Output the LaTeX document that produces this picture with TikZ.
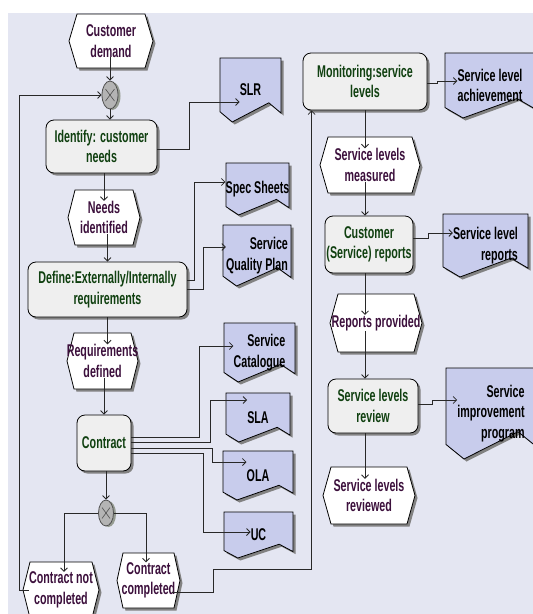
\documentclass[tikz,border=0pt]{standalone}
\usepackage{fontspec}
\newfontfamily\dfont{Liberation Sans}[FakeStretch=0.63]
\usetikzlibrary{arrows.meta,shapes.geometric,shadows}
\definecolor{bgc}{RGB}{228,230,242}
\definecolor{docfill}{RGB}{200,204,236}
\definecolor{boxfill}{RGB}{239,239,239}
\definecolor{shadowc}{RGB}{130,130,130}
\definecolor{gateshadow}{RGB}{150,156,146}
\definecolor{gatefill}{RGB}{180,180,180}
\definecolor{gatedraw}{RGB}{80,80,80}
\definecolor{boxtext}{RGB}{16,64,16}
\definecolor{hextext}{RGB}{60,16,60}
\definecolor{linec}{RGB}{40,40,40}
\pgfdeclarelayer{back}
\pgfdeclarelayer{shapes}
\pgfsetlayers{back,shapes,main}

% hexagon outline around a node: name, width, height, indent, style
\newcommand\hexdraw[5]{%
  \path[#5] ([shift={(-#2/2,0)}]#1.center)
    -- ([shift={(-#2/2+#4,-#3/2)}]#1.center)
    -- ([shift={(#2/2-#4,-#3/2)}]#1.center)
    -- ([shift={(#2/2,0)}]#1.center)
    -- ([shift={(#2/2-#4,#3/2)}]#1.center)
    -- ([shift={(-#2/2+#4,#3/2)}]#1.center) -- cycle;}
\newcommand\hexshape[4]{%
  \begin{pgfonlayer}{shapes}
    \hexdraw{#1}{#2}{#3}{#4}{shadowpath}
    \hexdraw{#1}{#2}{#3}{#4}{hexpath}
  \end{pgfonlayer}}

% document outline (wavy bottom) around a node: name, width, height, style
\newcommand\docdraw[4]{%
  \path[#4] ([shift={(-#2/2,-#3/2)}]#1.center)
    -- ++(#2,0) -- ++(0,0.86*#3) -- ++(-0.2*#2,-0.16*#3)
    -- ++(-0.6*#2,0.30*#3) -- ++(-0.2*#2,-0.16*#3) -- cycle;}
\newcommand\docshape[3]{%
  \begin{pgfonlayer}{shapes}
    \docdraw{#1}{#2}{#3}{shadowpath}
    \docdraw{#1}{#2}{#3}{docpath}
  \end{pgfonlayer}}

\tikzset{
  every node/.style={font=\dfont\bfseries\fontsize{17}{20.5}\selectfont,
    align=center, inner sep=0pt},
  shadowpath/.style={fill=shadowc, transform canvas={xshift=2.5pt,yshift=-2.5pt}},
  hexpath/.style={fill=white, draw=black, line width=0.8pt},
  docpath/.style={fill=docfill, draw=black, line width=0.8pt},
  box/.style={rectangle, rounded corners=8pt, draw=black, line width=0.8pt,
    fill=boxfill, text=boxtext,
    drop shadow={shadow xshift=2.5pt, shadow yshift=-2.5pt, opacity=1, fill=shadowc}},
  hexnode/.style={text=hextext},
  docnode/.style={text=black},
  gate/.style={ellipse, draw=gatedraw, fill=gatefill, line width=0.8pt,
    minimum width=16pt, minimum height=28pt,
    drop shadow={shadow xshift=2.5pt, shadow yshift=-1pt, opacity=1, fill=gateshadow}},
  gatex/.style={draw=gatedraw, line width=0.6pt},
  conn/.style={draw=linec, line width=0.8pt, -{Straight Barb[length=3.5pt,width=7pt]}},
}

\begin{document}
\begin{tikzpicture}[x=1pt,y=-1pt]
\useasboundingbox (0,0) rectangle (533,614);
\clip (0,0) rectangle (533,614);
\begin{pgfonlayer}{back}
  \fill[white] (0,0) rectangle (533,614);
  \fill[bgc] (8,13) rectangle (533,614);
\end{pgfonlayer}

% ---- left column: requirements and contract
\node[hexnode] (cd) at (111,41) {Customer\\demand};
\hexshape{cd}{84}{54}{8}
\node[gate] (x1) at (110,95) {};
\draw[gatex] ([shift={(-4.5,-6)}]x1.center) -- ([shift={(4.5,6)}]x1.center);
\draw[gatex] ([shift={(-4.5,6)}]x1.center) -- ([shift={(4.5,-6)}]x1.center);
\node[box, minimum width=111pt, minimum height=53pt] (id) at (101.5,146.5) {Identify: customer\\needs};
\node[hexnode] (ni) at (104,217.5) {Needs\\identified};
\hexshape{ni}{72}{55}{7}
\node[box, minimum width=159pt, minimum height=55pt] (def) at (107.5,289.5) {Define:Externally/Internally\\requirements};
\node[hexnode] (rd) at (102.5,361) {Requirements\\defined};
\hexshape{rd}{71}{56}{7}
\node[box, minimum width=54pt, minimum height=56pt] (con) at (104,443) {Contract};
\node[gate, minimum width=15pt, minimum height=26pt] (x2) at (106,513) {};
\draw[gatex] ([shift={(-4,-5.5)}]x2.center) -- ([shift={(4,5.5)}]x2.center);
\draw[gatex] ([shift={(-4,5.5)}]x2.center) -- ([shift={(4,-5.5)}]x2.center);
\node[hexnode] (cnc) at (61,590) {Contract not\\completed};
\hexshape{cnc}{76}{56}{7}
\node[hexnode] (cc) at (148.5,580.5) {Contract\\completed};
\hexshape{cc}{63}{55}{6}

% ---- documents produced
\node[docnode] (slr) at (250.5,90) {SLR};
\docshape{slr}{61}{64}
\node[docnode] (ss) at (257.5,189) {Spec Sheets};
\docshape{ss}{63}{52}
\node[docnode, align=right] (sqp) at (257,255.5) {Service\\Quality Plan};
\docshape{sqp}{68}{61}
\node[docnode, align=right] (sc) at (259.5,352.5) {Service\\Catalogue};
\docshape{sc}{71}{59}
\node[docnode] (sla) at (258,417.5) {SLA};
\docshape{sla}{64}{49}
\node[docnode] (ola) at (258,475.5) {OLA};
\docshape{ola}{70}{49}
\node[docnode] (uc) at (258.5,535) {UC};
\docshape{uc}{69}{46}

% ---- right column: monitoring and review
\node[box, minimum width=124pt, minimum height=57pt] (mon) at (365,81.5) {Monitoring:service\\levels};
\node[docnode] (slach) at (490,85.5) {Service level\\achievement};
\docshape{slach}{90}{65}
\node[hexnode] (slm) at (370,165) {Service levels\\measured};
\hexshape{slm}{100}{56}{8}
\node[box, minimum width=88pt, minimum height=57pt] (csr) at (369,244.5) {Customer\\(Service) reports};
\node[docnode, align=right] (slrep) at (485.5,245.5) {Service level\\reports};
\docshape{slrep}{85}{63}
\node[hexnode] (rp) at (376,323) {Reports provided};
\hexshape{rp}{92}{58}{8}
\node[box, minimum width=90pt, minimum height=54pt] (rev) at (373,406) {Service levels\\review};
\node[docnode, align=right] (sip) at (491,413.5) {Service\\improvement\\program};
\docshape{sip}{90}{91}
\node[hexnode] (rvd) at (369,495.5) {Service levels\\reviewed};
\hexshape{rvd}{92}{57}{8}

% ---- connectors, left column
\draw[conn] (x1.north |- cd.south) -- (x1.north);
\draw[conn] (x1.south) -- (x1.south |- id.north);
\draw[conn] (cnc.west) -- ++(-10,0) |- (x1.west);
\draw[conn] ([yshift=-3pt]id.east) -- ++(32,0) |- ([yshift=-12pt]slr.west);
\draw[conn] (ni.north |- id.south) -- (ni.north);
\draw[conn] (def.north |- ni.south) -- (def.north);
\draw[conn] ([yshift=9.5pt]def.east) -- ++(7,0) |- ([yshift=7pt]ss.west);
\draw[conn] (def.east) -- ++(16,0) |- ([yshift=8.5pt]sqp.west);
\draw[conn] (def.south) -- (def.south |- rd.north);
\draw[conn] (con.north |- rd.south) -- (con.north);
\draw[conn] ([yshift=6pt]con.east) -- ++(68,0) |- ([yshift=6.5pt]sc.west);
\draw[conn] ([yshift=1pt]con.east) -- ++(79,0) |- ([yshift=17.5pt]sla.west);
\draw[conn] ([yshift=-5pt]con.east) -- ++(81,0) |- ([yshift=13.5pt]ola.west);
\draw[conn] ([yshift=-10pt]con.east) -- ++(72,0) |- ([yshift=3pt]uc.west);
\draw[conn] (x2.north |- con.south) -- (x2.north);
\draw[conn] (x2.west) -| ([xshift=3pt]cnc.north);
\draw[conn] (x2.east) -| ([xshift=-2.5pt]cc.north);
\draw[conn] ([xshift=-3pt,yshift=-12pt]cc.east) -- ++(41,0) -- ++(0,-23) -| ([xshift=9pt]mon.south west);

% ---- connectors, right column
\draw[conn] ([yshift=-1.5pt]mon.east) -- ++(10,0) |- ([yshift=4.5pt]slach.west);
\draw[conn] (mon.south) -- (mon.south |- slm.north);
\draw[conn] (mon.south |- slm.south) -- (mon.south |- csr.north);
\draw[conn] ([yshift=6.5pt]csr.east) -- ++(15,0) |- ([yshift=12.5pt]slrep.west);
\draw[conn] (mon.south |- csr.south) -- (mon.south |- rp.north);
\draw[conn] (mon.south |- rp.south) -- (mon.south |- rev.north);
\draw[conn] ([yshift=2pt]rev.east) -- ++(14,0) |- ([yshift=13.5pt]sip.west);
\draw[conn] (mon.south |- rev.south) -- (mon.south |- rvd.north);
\end{tikzpicture}
\end{document}
